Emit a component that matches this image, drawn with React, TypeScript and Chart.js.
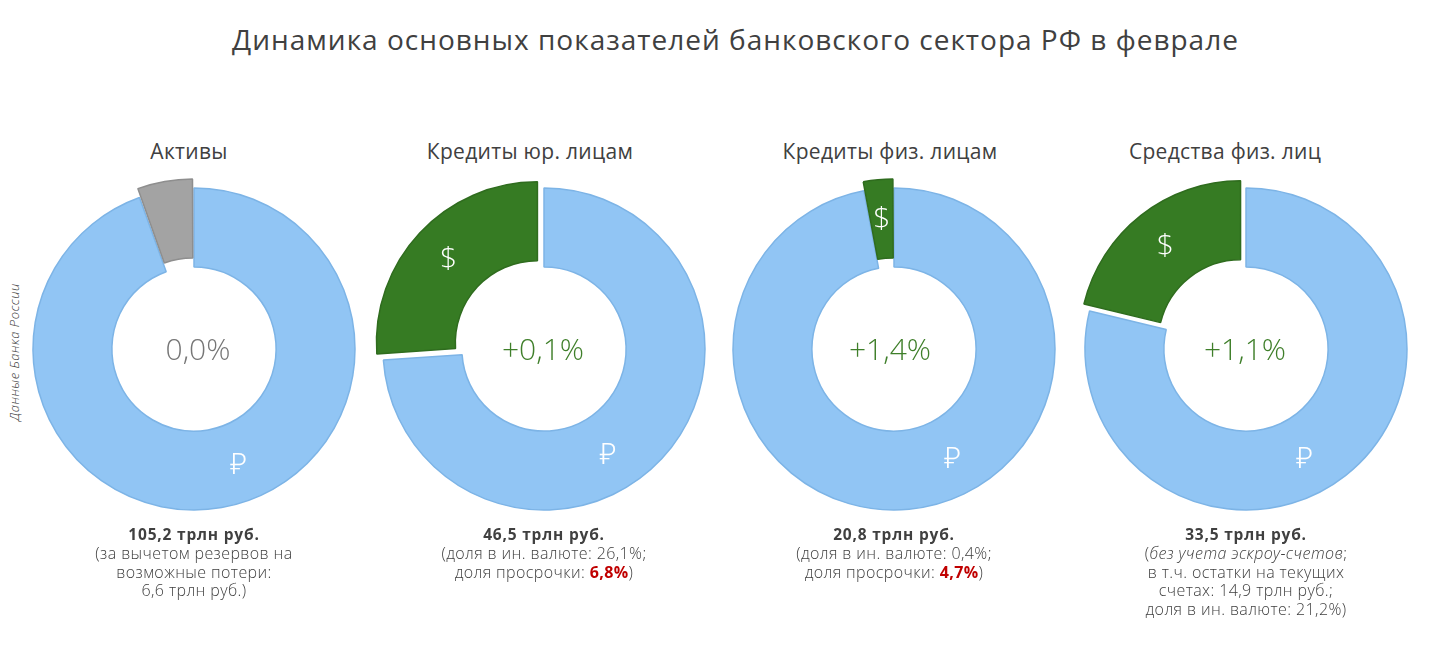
import React, { useEffect, useRef } from "react";
import { Chart, registerables } from "chart.js";

Chart.register(...registerables);

// ---- data ----
const mainTitle = "Динамика основных показателей банковского сектора РФ в феврале";
const chartTitles = ["Активы", "Кредиты юр. лицам", "Кредиты физ. лицам", "Средства физ. лиц"];
const segmentNames = ["₽", "$"];
const rubleShares = [94.5, 73.9, 97.0, 78.8];
const foreignShares = [5.5, 26.1, 3.0, 21.2];
const monthChanges = ["0,0%", "+0,1%", "+1,4%", "+1,1%"];
const totals = ["105,2 трлн руб.", "46,5 трлн руб.", "20,8 трлн руб.", "33,5 трлн руб."];
const sourceNote = "Данные Банка России";

// ---- style ----
const FONT = "'Open Sans', 'Noto Sans', 'DejaVu Sans', sans-serif";
const TEXT = "#404040";
const BLUE = "#91C5F4";
const BLUE_B = "#7DB4E6";
const GREEN = "#367B23";
const GREEN_B = "#2F6C1E";
const GRAY = "#A3A3A3";
const GRAY_B = "#8E8E8E";
const RED = "#C00000";
const CENTERS_X = [194, 544, 894, 1246];
const TITLE_X = [189, 530, 890, 1225];
const CHANGE_X = [198, 543, 890, 1245];
const RUBLE_LABEL_ANGLE = [159, 149, 152, 152]; // degrees clockwise from top
const CENTER_Y = 349;
const OUTER_R = 161;
const SHIFT = 9; // pixel shift of the exploded segment
const CANVAS = 380;

function offsetFor(share: number) {
  const circ = (share / 100) * Math.PI * 2;
  const fix = 1 - Math.sin(Math.min(Math.PI, circ));
  return (4 * SHIFT) / (1 + fix);
}

const labelPlugin = {
  id: "segLabels",
  afterDatasetsDraw(chart: any, _a: any, opts: any) {
    const ctx = chart.ctx;
    const meta = chart.getDatasetMeta(0);
    ctx.save();
    ctx.fillStyle = "#FFFFFF";
    ctx.font = `300 30px ${FONT}`;
    ctx.textAlign = "center";
    ctx.textBaseline = "middle";
    meta.data.forEach((arc: any, i: number) => {
      if (i === 1 && !opts.showForeign) return;
      const p = arc.getProps(["x", "y", "startAngle", "endAngle", "innerRadius", "outerRadius"], true);
      const mid = (p.innerRadius + p.outerRadius) / 2;
      let a: number;
      let r: number;
      if (i === 0) {
        a = p.startAngle + (opts.rubleAngle * Math.PI) / 180;
        r = mid + 3;
      } else {
        a = (p.startAngle + p.endAngle) / 2;
        r = mid + SHIFT;
      }
      ctx.fillText(chart.data.labels[i], p.x + Math.cos(a) * r, p.y + Math.sin(a) * r);
    });
    ctx.restore();
  },
};

function Donut({ idx }: { idx: number }) {
  const ref = useRef<HTMLCanvasElement>(null);
  useEffect(() => {
    if (!ref.current) return;
    const isAssets = idx === 0;
    const chart = new Chart(ref.current, {
      type: "doughnut",
      data: {
        labels: segmentNames,
        datasets: [
          {
            data: [rubleShares[idx], foreignShares[idx]],
            backgroundColor: [BLUE, isAssets ? GRAY : GREEN],
            borderColor: [BLUE_B, isAssets ? GRAY_B : GREEN_B],
            borderWidth: 1.5,
            offset: [0, offsetFor(foreignShares[idx])],
          } as any,
        ],
      },
      options: {
        responsive: false,
        animation: false,
        radius: OUTER_R,
        cutout: "51%",
        events: [],
        layout: { padding: 0 },
        plugins: {
          legend: { display: false },
          tooltip: { enabled: false },
          segLabels: { showForeign: !isAssets, rubleAngle: RUBLE_LABEL_ANGLE[idx] },
        } as any,
      },
      plugins: [labelPlugin],
    });
    return () => chart.destroy();
  }, [idx]);
  return (
    <canvas
      ref={ref}
      width={CANVAS}
      height={CANVAS}
      style={{
        position: "absolute",
        left: CENTERS_X[idx] - CANVAS / 2,
        top: CENTER_Y - CANVAS / 2,
        width: CANVAS,
        height: CANVAS,
      }}
    />
  );
}

const red = (t: string) => <span style={{ color: RED, fontWeight: 700 }}>{t}</span>;

const notes: React.ReactNode[][] = [
  ["(за вычетом резервов на", "возможные потери:", "6,6 трлн руб.)"],
  ["(доля в ин. валюте: 26,1%;", <>доля просрочки: {red("6,8%")})</>],
  ["(доля в ин. валюте: 0,4%;", <>доля просрочки: {red("4,7%")})</>],
  [
    <>(<i>без учета эскроу-счетов</i>;</>,
    "в т.ч. остатки на текущих",
    "счетах: 14,9 трлн руб.;",
    "доля в ин. валюте: 21,2%)",
  ],
];

export default function App() {
  return (
    <div
      style={{
        position: "absolute",
        left: 0,
        top: 0,
        width: 1429,
        height: 670,
        background: "#FFFFFF",
        fontFamily: FONT,
        color: TEXT,
        overflow: "hidden",
      }}
    >
      <div
        style={{
          position: "absolute",
          left: 0,
          width: 1471,
          top: 21,
          textAlign: "center",
          fontSize: 28,
          letterSpacing: 1,
          lineHeight: "36px",
          fontWeight: 400,
          whiteSpace: "nowrap",
        }}
      >
        {mainTitle}
      </div>

      <div
        style={{
          position: "absolute",
          left: 14 - 100,
          top: 352 - 9,
          width: 200,
          height: 18,
          lineHeight: "18px",
          fontSize: 13,
          fontWeight: 300,
          fontStyle: "italic",
          letterSpacing: 0.5,
          textAlign: "center",
          transform: "rotate(-90deg)",
          whiteSpace: "nowrap",
        }}
      >
        {sourceNote}
      </div>

      {chartTitles.map((t, i) => (
        <div
          key={"t" + i}
          style={{
            position: "absolute",
            left: TITLE_X[i] - 175,
            width: 350,
            top: 137,
            textAlign: "center",
            fontSize: 21,
            letterSpacing: 0.3,
            lineHeight: "28px",
            whiteSpace: "nowrap",
          }}
        >
          {t}
        </div>
      ))}

      {chartTitles.map((_, i) => (
        <Donut key={"d" + i} idx={i} />
      ))}

      {monthChanges.map((c, i) => (
        <div
          key={"c" + i}
          style={{
            position: "absolute",
            left: CHANGE_X[i] - 90,
            width: 180,
            top: CENTER_Y - 21,
            textAlign: "center",
            fontSize: 30,
            lineHeight: "42px",
            fontWeight: 300,
            color: i === 0 ? "#767676" : "#3F7F2A",
            pointerEvents: "none",
          }}
        >
          {c}
        </div>
      ))}

      {totals.map((t, i) => (
        <div
          key={"n" + i}
          style={{
            position: "absolute",
            left: CENTERS_X[i] - 175,
            width: 350,
            top: 525,
            textAlign: "center",
            fontSize: 16,
            letterSpacing: 0.4,
            lineHeight: "18.8px",
            whiteSpace: "nowrap",
          }}
        >
          <div style={{ fontWeight: 700, fontSize: 15.5, letterSpacing: 0.8 }}>{t}</div>
          {notes[i].map((line, j) => (
            <div key={j} style={{ fontWeight: 300 }}>
              {line}
            </div>
          ))}
        </div>
      ))}
    </div>
  );
}
